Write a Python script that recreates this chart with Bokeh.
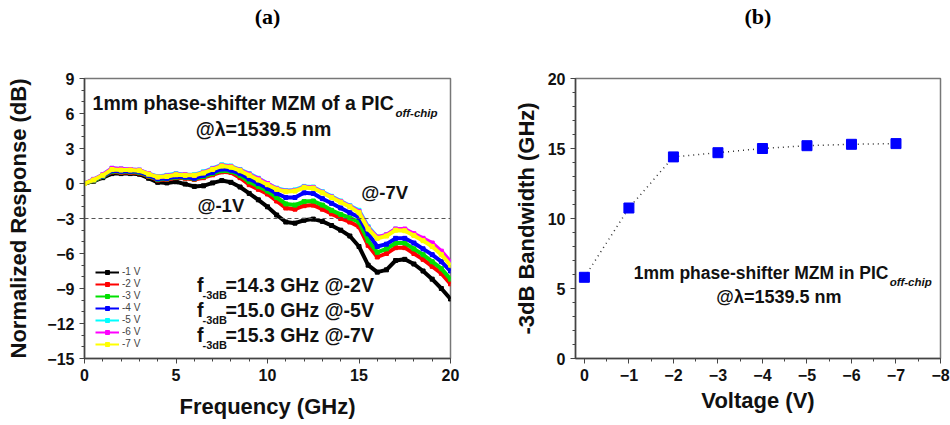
from bokeh.plotting import figure
from bokeh.layouts import row
from bokeh.models import (Range1d, Span, Legend, LegendItem, SingleIntervalTicker, LinearAxis,
                          FixedTicker)
from bokeh.embed import file_html
from bokeh.resources import INLINE
from bokeh.core.properties import value

# ---------------- data (a) ----------------
freq_ghz = [0, 0.5, 1, 1.5, 2, 2.5, 3, 3.5, 4, 4.5, 5, 5.5, 6, 6.5, 7, 7.5, 8, 8.5, 9, 9.5,
            10, 10.5, 11, 11.5, 12, 12.5, 13, 13.5, 14, 14.5, 15, 15.5, 16, 16.5, 17, 17.5,
            18, 18.5, 19, 19.5, 20]
resp_m1v = [0, 0.2, 0.5, 0.85, 0.85, 0.85, 0.8, 0.45, 0.1, 0.05, 0.15, -0.05, -0.25, -0.2, 0.05,
            0.25, 0.1, -0.3, -0.85, -1.4, -2.0, -2.7, -3.3, -3.4, -3.15, -3.05, -3.25, -3.6,
            -4.0, -4.5, -5.4, -7.0, -7.6, -7.4, -6.6, -6.5, -6.9, -7.5, -8.2, -9.0, -9.9]
resp_m2v = [0, 0.25, 0.6, 1.0, 0.95, 0.95, 0.9, 0.6, 0.3, 0.35, 0.5, 0.45, 0.35, 0.5, 0.75,
            1.0, 0.95, 0.5, -0.1, -0.5, -0.9, -1.5, -2.1, -2.2, -1.9, -1.85, -2.2, -2.6,
            -3.0, -3.3, -3.7, -5.3, -6.3, -6.0, -5.5, -5.5, -6.0, -6.5, -7.1, -7.7, -8.6]
resp_m3v = [0, 0.25, 0.6, 1.05, 1.0, 1.0, 0.95, 0.65, 0.35, 0.4, 0.55, 0.5, 0.4, 0.6, 0.85,
            1.1, 1.05, 0.7, 0.15, -0.25, -0.65, -1.2, -1.75, -1.85, -1.55, -1.5, -1.85, -2.3,
            -2.65, -2.95, -3.3, -4.9, -5.9, -5.6, -5.1, -5.1, -5.6, -6.1, -6.7, -7.3, -8.2]
resp_m4v = [0, 0.3, 0.65, 1.1, 1.05, 1.05, 1.0, 0.7, 0.4, 0.45, 0.6, 0.55, 0.45, 0.7, 0.95,
            1.25, 1.15, 0.85, 0.4, 0.0, -0.4, -0.85, -1.2, -1.2, -0.8, -0.85, -1.3, -1.7,
            -2.1, -2.5, -2.9, -4.3, -5.4, -5.2, -4.7, -4.7, -5.1, -5.6, -6.1, -6.7, -7.5]
resp_m5v = [0, 0.35, 0.75, 1.3, 1.25, 1.2, 1.15, 0.85, 0.6, 0.7, 0.85, 0.75, 0.75, 1.0, 1.3,
            1.6, 1.5, 1.2, 0.85, 0.45, 0.0, -0.4, -0.6, -0.55, -0.25, -0.3, -0.7, -1.1,
            -1.5, -1.9, -2.3, -3.7, -4.6, -4.4, -3.9, -3.95, -4.4, -4.8, -5.3, -6.0, -6.8]
resp_m6v = [0, 0.35, 0.75, 1.3, 1.25, 1.2, 1.15, 0.85, 0.55, 0.65, 0.8, 0.75, 0.7, 0.95, 1.25,
            1.55, 1.45, 1.15, 0.8, 0.4, 0.0, -0.45, -0.65, -0.6, -0.3, -0.35, -0.75, -1.15,
            -1.55, -1.95, -2.4, -3.8, -4.6, -4.4, -3.9, -3.9, -4.3, -4.7, -5.1, -5.8, -6.7]
resp_m7v = [0, 0.3, 0.7, 1.2, 1.15, 1.15, 1.1, 0.8, 0.55, 0.6, 0.75, 0.7, 0.7, 0.9, 1.2,
            1.5, 1.4, 1.1, 0.7, 0.3, -0.1, -0.5, -0.7, -0.65, -0.35, -0.4, -0.8, -1.2,
            -1.6, -2.0, -2.5, -3.9, -4.7, -4.5, -4.0, -4.05, -4.45, -4.9, -5.4, -6.1, -7.0]
series_labels = ["-1 V", "-2 V", "-3 V", "-4 V", "-5 V", "-6 V", "-7 V"]
series_colors = ["#000000", "#ff0000", "#00e000", "#0000ff", "#00ffff", "#ff00ff", "#ffff00"]
threshold_db = -3

# ---------------- data (b) ----------------
voltage_v = [0, -1, -2, -3, -4, -5, -6, -7]
bandwidth_ghz = [5.8, 10.75, 14.4, 14.7, 15.0, 15.2, 15.3, 15.35]

FONT = "Liberation Sans"


def style_axes(p):
    for ax in (p.xaxis[0], p.yaxis[0]):
        ax.axis_line_color = "#444444"
        ax.axis_line_width = 1.5
        ax.major_tick_in = 0
        ax.major_tick_out = 5
        ax.minor_tick_in = 0
        ax.minor_tick_out = 3
        ax.major_tick_line_color = "#444444"
        ax.minor_tick_line_color = "#444444"
        ax.major_label_text_font = FONT
        ax.major_label_text_font_style = "bold"
        ax.major_label_text_font_size = "16px"
        ax.major_label_text_color = "#111111"
        ax.axis_label_text_font = FONT
        ax.axis_label_text_font_style = "bold"
        ax.axis_label_text_font_size = "22px"
        ax.axis_label_text_color = "#111111"
    p.xgrid.visible = False
    p.ygrid.visible = False
    p.outline_line_color = "#777777"
    p.outline_line_width = 1.5


def panel_tag(p, text, bounds, range_name="default"):
    # invisible top axis used only to carry the panel tag "(a)" / "(b)"
    ax = LinearAxis(ticker=FixedTicker(ticks=[]), bounds=bounds, axis_label=text,
                    x_range_name=range_name,
                    axis_line_alpha=0, major_tick_line_alpha=0, minor_tick_line_alpha=0,
                    major_label_text_alpha=0, axis_label_standoff=50,
                    axis_label_text_font="Liberation Serif", axis_label_text_font_style="bold",
                    axis_label_text_font_size="22px", axis_label_text_color="#000000")
    p.add_layout(ax, "above")


bold = dict(text_font=value(FONT), text_font_style="bold", text_color="#111111",
            text_baseline="middle")

# ================= panel (a) =================
pa = figure(width=470, height=422, output_backend="svg", toolbar_location=None,
            x_range=Range1d(0, 20), y_range=Range1d(-15, 9),
            min_border_left=84, min_border_right=20, min_border_top=78, min_border_bottom=64,
            x_axis_label="Frequency (GHz)", y_axis_label="Normalized Response (dB)")
pa.xaxis.ticker = SingleIntervalTicker(interval=5, num_minor_ticks=5)
pa.yaxis.ticker = SingleIntervalTicker(interval=3, num_minor_ticks=3)
style_axes(pa)
pa.xaxis.axis_label_standoff = 10
pa.yaxis.axis_label_standoff = 13
panel_tag(pa, "(a)", (7.6, 9.6))

pa.add_layout(Span(location=threshold_db, dimension="width", line_dash="4 3",
                   line_color="#555555", line_width=1))

all_resp = [resp_m1v, resp_m2v, resp_m3v, resp_m4v, resp_m5v, resp_m6v, resp_m7v]
items = []
for lab, col, vals in zip(series_labels, series_colors, all_resp):
    thin = pa.line(freq_ghz, vals, line_color=col, line_width=2)
    sq = pa.scatter(freq_ghz, vals, marker="square", size=4, color=col)
    pa.line(freq_ghz, vals, line_color=col, line_width=4)
    items.append(LegendItem(label=lab, renderers=[thin, sq]))

legend = Legend(items=items, location=(11, 9), label_text_font_size="10px",
                label_text_font=FONT, glyph_width=24, glyph_height=10, spacing=1,
                padding=0, margin=0, border_line_alpha=0, background_fill_alpha=0,
                label_standoff=3, label_height=10)
pa.add_layout(legend)

pa.text(x=[16.9], y=[6.94], text=["1mm phase-shifter MZM of a PIC"], text_align="right",
        text_font_size="19.5px", **bold)
pa.text(x=[17.0], y=[6.05], text=["off-chip"], text_align="left", text_font_size="11.5px",
        text_font=value(FONT), text_font_style="bold italic", text_color="#111111",
        text_baseline="middle")
pa.text(x=[9.78], y=[4.71], text=["@\u03bb=1539.5 nm"], text_align="center",
        text_font_size="19.5px", **bold)
pa.text(x=[7.45], y=[-1.9], text=["@-1V"], text_align="center", text_font_size="18.5px", **bold)
pa.text(x=[16.4], y=[-0.77], text=["@-7V"], text_align="center", text_font_size="18.5px", **bold)
for yy, txt in zip([-8.74, -10.88, -13.0],
                   ["=14.3 GHz @-2V", "=15.0 GHz @-5V", "=15.3 GHz @-7V"]):
    pa.text(x=[6.5], y=[yy], text=["f"], text_align="right", text_font_size="19.5px", **bold)
    pa.text(x=[6.45], y=[yy - 0.8], text=["-3dB"], text_align="left", text_font_size="11px",
            **bold)
    pa.text(x=[7.7], y=[yy], text=[txt], text_align="left", text_font_size="19.5px", **bold)

# ================= panel (b) =================
pb = figure(width=480, height=422, output_backend="svg", toolbar_location=None,
            x_range=Range1d(0.2, -8), y_range=Range1d(0, 20),
            min_border_left=105, min_border_right=10, min_border_top=78, min_border_bottom=64,
            x_axis_label="Voltage (V)", y_axis_label="-3dB Bandwidth (GHz)")
pb.xaxis.ticker = SingleIntervalTicker(interval=1, num_minor_ticks=2)
pb.yaxis.ticker = SingleIntervalTicker(interval=5, num_minor_ticks=5)
style_axes(pb)
pb.xaxis.axis_label_standoff = 4
pb.yaxis.axis_label_standoff = 6
pb.extra_x_ranges = {"tag": Range1d(-0.2, 8)}
panel_tag(pb, "(b)", (2.8, 3.8), "tag")

pb.line(voltage_v, bandwidth_ghz, line_color="#333333", line_width=1.5, line_dash="1 4")
pb.scatter(voltage_v, bandwidth_ghz, marker="square", size=10, color="#0000ff")

pb.text(x=[-6.83], y=[6.14], text=["1mm phase-shifter MZM in PIC"], text_align="right",
        text_font_size="17.5px", **bold)
pb.text(x=[-6.86], y=[5.5], text=["off-chip"], text_align="left", text_font_size="11.5px",
        text_font=value(FONT), text_font_style="bold italic", text_color="#111111",
        text_baseline="middle")
pb.text(x=[-4.37], y=[4.36], text=["@\u03bb=1539.5 nm"], text_align="center",
        text_font_size="18px", **bold)

layout = row(pa, pb)
open("out.html", "w").write(file_html(layout, INLINE))
